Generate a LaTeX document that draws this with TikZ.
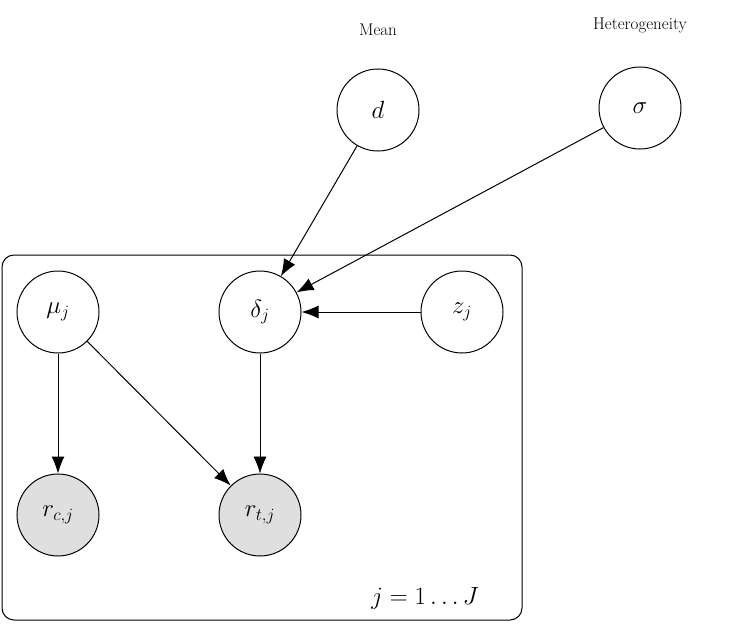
\documentclass[tikz,border=0pt]{standalone}
\usetikzlibrary{arrows.meta}
\begin{document}
\begin{tikzpicture}[x=1pt,y=-1pt,
  var/.style={circle,draw,line width=1pt,minimum size=82pt,inner sep=0pt,font=\fontsize{26}{30}\selectfont},
  obs/.style={var,fill=gray!25},
  arr/.style={-{Latex[length=17pt,width=13pt]},line width=1pt},
  lab/.style={font=\fontsize{17}{20}\selectfont}]
\useasboundingbox (0,0) rectangle (754,623);
\draw[line width=1pt,rounded corners=12pt] (2,255) rectangle (522,620);
\node[var] (d) at (378,110) {$d$};
\node[var] (s) at (640,108) {$\sigma$};
\node[var] (mu) at (58,312) {$\mu_j$};
\node[var] (de) at (260,312) {$\delta_j$};
\node[var] (z) at (462,312) {$z_j$};
\node[obs] (rc) at (58,515) {$r_{c,j}$};
\node[obs] (rt) at (260,515) {$r_{t,j}$};
\node[lab] (m) at (378,30) {Mean};
\node[lab] (h) at (640,25) {Heterogeneity};
\node[font=\fontsize{24}{28}\selectfont] (jl) at (425,598) {$j=1\dots J$};
\draw[arr] (d) -- (de);
\draw[arr] (s) -- (de);
\draw[arr] (z) -- (de);
\draw[arr] (mu) -- (rc);
\draw[arr] (mu) -- (rt);
\draw[arr,line width=0.6pt] (de) -- (rt);
\end{tikzpicture}
\end{document}
